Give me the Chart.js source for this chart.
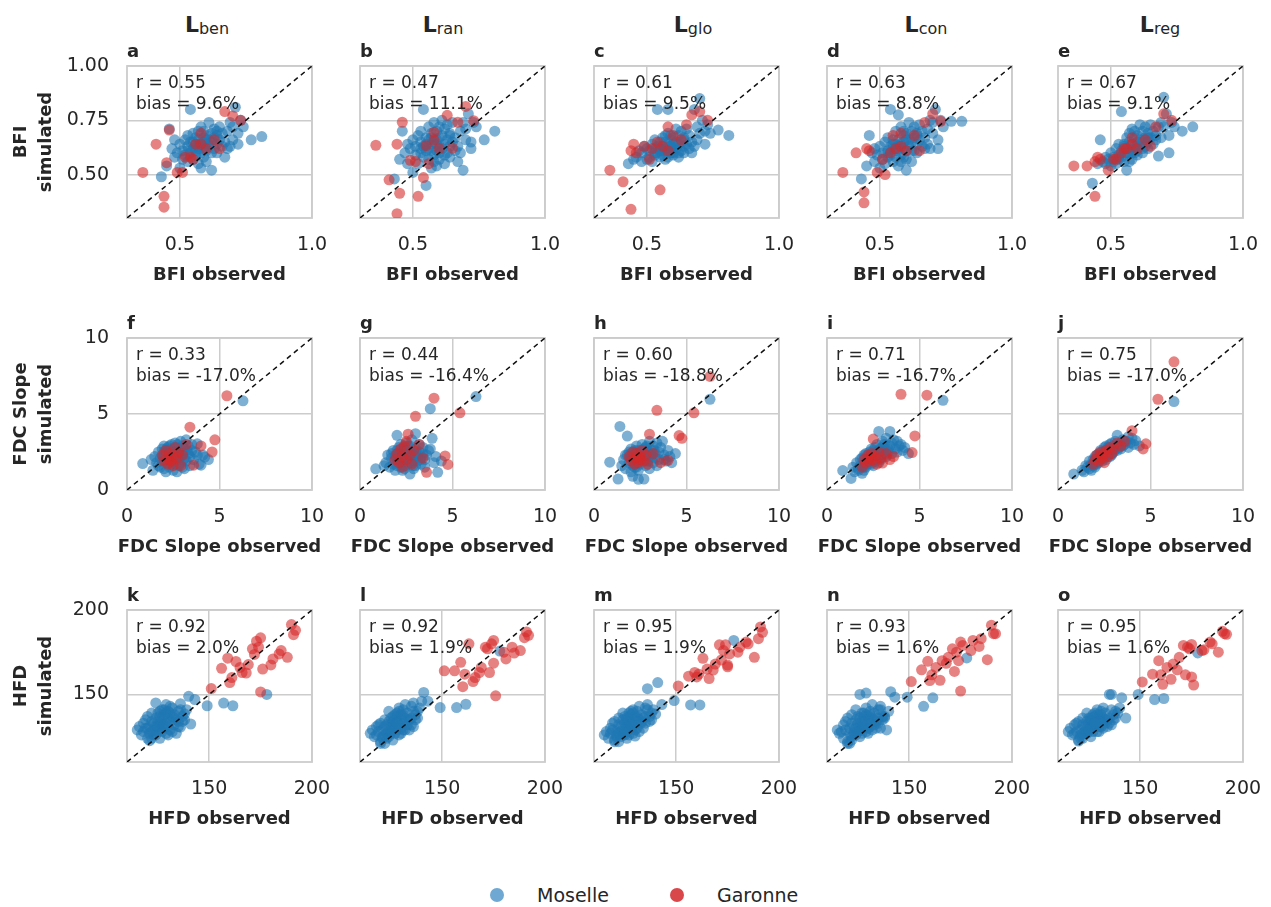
<!DOCTYPE html>
<html>
<head>
<meta charset="utf-8">
<script src="https://cdn.jsdelivr.net/npm/chart.js@4.4.1/dist/chart.umd.min.js"></script>
<style>
  body { margin: 0; background: #fff; width: 1271px; height: 907px; position: relative; overflow: hidden;
         font-family: "DejaVu Sans", sans-serif; color: #262626; }
  canvas { position: absolute; }
  .hdr { position: absolute; top: 14px; font-size: 22px; line-height: 22px; font-weight: bold; transform: translateX(-50%); white-space: nowrap; }
  .hdr span { font-size: 16px; font-weight: normal; position: relative; top: 2px; }
  .dot { position: absolute; width: 14px; height: 14px; border-radius: 50%; }
  .lbl { position: absolute; font-size: 19px; line-height: 19px; }
</style>
</head>
<body>
<script>
// ---- data ----
const models = ['ben', 'ran', 'glo', 'con', 'reg'];
const headerX = [207, 443, 693, 926, 1160];
const letters = [['a','b','c','d','e'], ['f','g','h','i','j'], ['k','l','m','n','o']];
const rValues = [[0.55, 0.47, 0.61, 0.63, 0.67], [0.33, 0.44, 0.60, 0.71, 0.75], [0.92, 0.92, 0.95, 0.93, 0.95]];
const biasValues = [[9.6, 11.1, 9.5, 8.8, 9.1], [-17.0, -16.4, -18.8, -16.7, -17.0], [2.0, 1.9, 1.9, 1.6, 1.6]];

// BFI
const bfiObsMoselle = [0.43,0.45,0.46,0.47,0.48,0.48,0.49,0.50,0.50,0.51, 0.51,0.52,0.52,0.53,0.53,0.53,0.54,0.54,0.54,0.55,
  0.55,0.55,0.56,0.56,0.56,0.56,0.57,0.57,0.57,0.57, 0.58,0.58,0.58,0.58,0.59,0.59,0.59,0.59,0.60,0.60,
  0.60,0.60,0.61,0.61,0.61,0.62,0.62,0.62,0.63,0.63, 0.63,0.64,0.64,0.64,0.65,0.65,0.66,0.66,0.67,0.67,
  0.68,0.68,0.69,0.69,0.70,0.70,0.71,0.72,0.72,0.73, 0.74,0.77,0.81,0.55,0.60,0.62,0.57,0.53,0.59,0.64];
const bfiBenMoselle = [0.49,0.54,0.71,0.62,0.58,0.66,0.60,0.53,0.64,0.57, 0.61,0.66,0.59,0.63,0.56,0.68,0.80,0.60,0.65,0.57,
  0.62,0.69,0.59,0.64,0.67,0.61,0.55,0.63,0.70,0.66, 0.60,0.64,0.72,0.53,0.62,0.67,0.58,0.70,0.64,0.61,
  0.68,0.56,0.66,0.63,0.74,0.52,0.65,0.69,0.62,0.67, 0.71,0.64,0.60,0.68,0.66,0.72,0.63,0.69,0.58,0.65,
  0.70,0.62,0.63,0.74,0.66,0.72,0.81,0.69,0.64,0.75, 0.72,0.66,0.675,0.65,0.66,0.60,0.62,0.61,0.65,0.70];
const bfiRanMoselle = [0.48,0.57,0.70,0.60,0.55,0.64,0.62,0.51,0.66,0.59, 0.63,0.68,0.55,0.65,0.60,0.70,0.80,0.58,0.63,0.45,
  0.61,0.67,0.57,0.66,0.72,0.62,0.53,0.64,0.69,0.67, 0.59,0.65,0.74,0.56,0.61,0.70,0.54,0.66,0.63,0.60,
  0.72,0.57,0.68,0.62,0.75,0.55,0.64,0.71,0.60,0.66, 0.73,0.63,0.58,0.69,0.65,0.74,0.61,0.67,0.56,0.63,
  0.70,0.60,0.52,0.74,0.66,0.71,0.78,0.62,0.65,0.74, 0.72,0.66,0.70,0.64,0.67,0.59,0.61,0.62,0.64,0.68];
const bfiGloMoselle = [0.55,0.57,0.58,0.61,0.56,0.60,0.63,0.57,0.62,0.58, 0.61,0.64,0.56,0.62,0.59,0.66,0.80,0.60,0.63,0.58,
  0.61,0.65,0.59,0.63,0.67,0.61,0.57,0.62,0.68,0.65, 0.80,0.63,0.69,0.58,0.61,0.66,0.60,0.68,0.62,0.60,
  0.67,0.59,0.65,0.62,0.71,0.58,0.64,0.68,0.61,0.65, 0.70,0.63,0.60,0.67,0.64,0.71,0.62,0.68,0.60,0.65,
  0.80,0.63,0.66,0.72,0.85,0.69,0.75,0.64,0.70,0.73, 0.69,0.705,0.68,0.62,0.64,0.60,0.61,0.60,0.63,0.66];
const bfiConMoselle = [0.48,0.54,0.68,0.60,0.56,0.62,0.59,0.53,0.63,0.57, 0.60,0.65,0.55,0.61,0.58,0.67,0.80,0.59,0.63,0.56,
  0.62,0.66,0.58,0.64,0.70,0.61,0.54,0.63,0.775,0.66, 0.59,0.64,0.72,0.56,0.62,0.68,0.58,0.70,0.52,0.61,
  0.69,0.57,0.66,0.63,0.74,0.56,0.65,0.70,0.61,0.67, 0.72,0.64,0.60,0.69,0.66,0.73,0.63,0.70,0.62,0.67,
  0.71,0.64,0.62,0.75,0.69,0.74,0.80,0.66,0.62,0.75, 0.72,0.745,0.745,0.64,0.66,0.61,0.62,0.60,0.65,0.68];
const bfiRegMoselle = [0.46,0.55,0.66,0.56,0.55,0.58,0.57,0.54,0.60,0.56, 0.58,0.62,0.55,0.59,0.57,0.64,0.79,0.58,0.61,0.56,
  0.60,0.64,0.52,0.62,0.67,0.60,0.56,0.62,0.69,0.65, 0.60,0.64,0.71,0.57,0.62,0.67,0.60,0.70,0.63,0.61,
  0.68,0.59,0.66,0.63,0.73,0.60,0.65,0.70,0.63,0.67, 0.72,0.65,0.62,0.69,0.67,0.73,0.64,0.70,0.66,0.68,
  0.72,0.585,0.67,0.74,0.856,0.72,0.78,0.68,0.60,0.74, 0.72,0.70,0.72,0.63,0.65,0.62,0.60,0.58,0.63,0.67];
const bfiObsGaronne = [0.36,0.41,0.44,0.44,0.45,0.46,0.49,0.51,0.52,0.54,0.55,0.56,0.58,0.58,0.60,0.63,0.65,0.67,0.70,0.73];
const bfiBenGaronne = [0.51,0.64,0.40,0.35,0.555,0.705,0.51,0.51,0.58,0.58,0.57,0.64,0.69,0.64,0.62,0.66,0.62,0.79,0.77,0.75];
const bfiRanGaronne = [0.635,0.476,0.32,0.64,0.414,0.741,0.566,0.56,0.40,0.486,0.633,0.55,0.695,0.66,0.62,0.773,0.622,0.741,0.814,0.748];
const bfiGloGaronne = [0.52,0.467,0.34,0.61,0.64,0.60,0.63,0.57,0.62,0.65,0.43,0.63,0.72,0.61,0.68,0.66,0.73,0.775,0.79,0.75];
const bfiConGaronne = [0.51,0.60,0.37,0.42,0.62,0.61,0.51,0.57,0.50,0.60,0.68,0.62,0.69,0.63,0.61,0.68,0.61,0.74,0.78,0.745];
const bfiRegGaronne = [0.54,0.54,0.40,0.56,0.58,0.57,0.52,0.57,0.57,0.60,0.62,0.62,0.67,0.64,0.62,0.66,0.63,0.72,0.78,0.75];

// FDC slope
const fdcObsMoselle = [0.85,1.3,1.4,1.5,1.6,1.7,1.8,1.8,1.9,1.9, 2.0,2.0,2.0,2.1,2.1,2.1,2.2,2.2,2.2,2.3,
  2.3,2.3,2.4,2.4,2.4,2.5,2.5,2.5,2.6,2.6, 2.6,2.7,2.7,2.7,2.8,2.8,2.8,2.9,2.9,3.0,
  3.0,3.0,3.1,3.1,3.2,3.2,3.3,3.3,3.4,3.4, 3.5,3.5,3.6,3.7,3.8,3.9,4.0,4.1,4.2,4.4,
  2.0,2.3,2.5,2.7,2.9,3.1,1.7,2.2,2.6,2.4, 6.27,1.95,2.15,2.35,2.55,2.75,2.85,3.05,3.25,3.8];
const fdcBenMoselle = [1.74,2.0,1.3,2.2,1.8,2.5,1.5,2.1,2.7,1.9, 2.3,1.4,2.9,2.0,1.2,2.5,1.8,2.8,2.2,1.5,
  2.6,2.0,3.0,1.7,2.3,1.3,2.7,2.1,1.9,2.4, 3.1,1.2,2.2,2.8,1.6,2.5,2.0,3.2,1.8,2.4,
  2.9,1.5,2.1,2.7,3.3,1.9,2.4,2.9,2.2,1.6, 2.6,3.0,2.0,2.5,3.04,1.7,1.63,2.3,2.17,2.0,
  2.5,2.9,1.9,2.5,2.2,1.4,1.6,2.4,1.7,2.6, 5.87,2.2,2.7,1.9,2.4,3.0,2.2,2.0,2.6,2.3];
const fdcRanMoselle = [1.39,1.6,1.8,2.3,1.5,2.1,2.6,1.7,2.2,1.3, 3.6,2.0,1.6,2.4,1.9,2.8,1.5,2.2,3.0,1.8,
  2.5,2.1,1.4,2.7,2.3,1.9,3.1,2.0,2.4,1.7, 2.9,1.05,2.2,2.6,1.8,2.5,3.3,2.0,2.3,3.7,
  1.6,2.7,2.2,1.9,2.5,3.0,2.1,1.7,2.4,2.8, 2.0,1.5,2.3,2.6,5.35,3.4,1.8,2.2,1.16,1.9,
  2.6,1.3,2.2,2.9,1.4,2.4,2.4,2.0,2.1,1.6, 6.15,2.3,1.9,2.8,2.1,2.4,1.6,2.3,2.0,2.7];
const fdcGloMoselle = [1.83,0.72,4.18,1.6,2.0,1.4,3.55,2.3,1.8,2.5, 1.2,2.1,2.7,1.6,2.3,0.9,2.0,2.6,1.5,2.2,
  1.8,2.9,0.7,2.4,2.0,1.7,2.6,2.2,3.0,1.9, 2.3,0.72,2.5,2.0,1.6,2.8,2.2,1.9,2.5,3.2,
  2.1,1.4,2.6,2.3,1.8,2.9,2.4,2.1,1.6,3.1, 2.5,2.0,2.8,3.2,2.3,1.9,2.6,2.2,1.8,2.4,
  2.4,1.5,2.0,2.7,1.9,2.2,2.3,1.7,2.5,1.3, 5.97,2.1,1.8,2.6,2.3,2.0,2.9,2.3,2.6,2.0];
const fdcConMoselle = [1.28,0.76,1.5,1.2,1.8,1.4,2.0,1.6,1.1,2.1, 1.7,2.3,1.3,1.9,2.4,1.5,2.0,2.2,1.7,2.5,
  1.9,2.1,2.7,1.8,2.3,2.0,2.6,1.6,2.2,2.8, 1.9,2.4,3.0,2.1,2.6,1.8,3.85,2.3,2.0,2.8,
  3.2,2.4,2.6,3.0,2.2,3.4,2.7,2.5,3.85,2.9, 3.1,2.4,3.3,2.7,2.5,2.9,3.0,2.6,2.8,2.4,
  1.5,1.9,2.2,2.5,2.1,2.7,1.3,2.0,2.4,1.7, 5.9,1.6,1.8,2.2,2.0,2.3,2.7,2.5,2.3,3.2];
const fdcRegMoselle = [1.05,1.3,1.2,1.6,1.5,1.9,1.7,1.3,2.0,1.6, 2.2,1.5,1.9,2.3,1.7,2.0,2.4,1.8,2.1,2.6,
  2.0,2.2,2.5,1.9,2.3,2.8,2.1,2.4,2.6,2.0, 2.9,2.3,2.5,2.8,2.2,3.0,2.6,2.4,3.1,2.7,
  2.5,2.9,2.8,3.2,3.6,2.6,3.0,2.8,3.1,2.7, 3.3,2.9,3.0,3.2,2.8,3.1,3.4,3.0,3.25,2.9,
  1.7,2.1,2.4,2.6,2.3,2.7,1.4,2.1,2.5,2.2, 5.82,1.8,2.0,2.2,2.4,2.5,2.7,2.6,2.8,3.5];
const fdcObsGaronne = [1.9,2.0,2.1,2.2,2.3,2.3,2.4,2.5,2.5,2.6,2.7,2.8,2.9,3.0,3.2,3.4,3.6,4.0,4.6,4.75,5.4,6.27];
const fdcBenGaronne = [2.3,1.9,2.6,1.7,2.0,2.4,1.9,2.2,1.6,2.8,2.1,2.5,1.6,2.3,3.0,4.13,1.63,2.9,2.5,3.3,6.2,null];
const fdcRanGaronne = [2.0,2.4,1.8,2.7,2.2,1.5,2.9,2.0,3.2,3.67,2.3,1.7,2.6,4.85,3.0,2.1,1.16,6.04,2.24,1.68,5.08,null];
const fdcGloGaronne = [2.2,1.9,2.5,1.7,2.1,2.4,1.8,2.2,2.0,2.6,1.9,2.3,1.7,3.67,2.4,5.24,1.8,1.95,3.58,3.4,5.08,7.47];
const fdcConGaronne = [1.5,2.0,1.8,2.3,1.9,2.1,2.4,3.35,2.0,2.2,1.7,2.5,2.1,1.77,2.4,2.0,2.2,6.3,2.46,3.56,6.24,null];
const fdcRegGaronne = [1.7,2.0,2.3,1.9,2.2,2.5,2.1,2.4,1.8,2.6,2.2,2.8,2.4,2.7,3.1,2.9,3.2,3.9,2.7,3.04,5.97,8.43];

// HFD
const hfdObsMoselle = [115,116,117,118,118,119,119,120,120,121, 121,122,122,122,123,123,123,124,124,124,
  125,125,125,126,126,126,127,127,127,128, 128,128,129,129,129,130,130,130,131,131,
  131,132,132,133,133,134,134,135,135,136, 136,137,137,138,139,140,141,143,149,157,
  161.5,178,124,126,128,130,132,120,122,127, 129,131,133,135,125,136,138,126,128,121];
const hfdBenMoselle = [129,131,126,133,128,135,130,124,137,131, 127,134,124,139,129,133,126,136,131,145,
  128,134,139,130,124,137,132,141,128,135, 130,138,133,127,144,136,131,126,139,134,
  129,137,142,132,138,127,135,140,131,130.6, 144.5,137,134,138.5,141,148.9,132.5,147,143.3,144.9,
  143.3,150,126,133,141,140,128,130,128,136, 139,143,136,134,131,141,135,140,132,122.6];
const hfdRanMoselle = [127,129,125,131,126,132,128,122,133,129, 125,131,121,135,127,132,124,134,129,140,
  127,132,136,129,123,134,131,138,127,134, 129,137,132,126,142,135,130,127,138,133,
  129,136,144,132,139,129,135,143,132,131, 145,138,135,140,142,146,151.2,146,142.2,142.2,
  144.2,175.7,125,131,139,138,129,121,126,135, 140,141,135,136,128,140,136,137,133,124];
const hfdGloMoselle = [126,128,124,130,127,133,129,123,134,128, 126,132,122,136,128,131,125,135,130,139,
  126,133,137,128,124,135,130,139,126,133, 130,138,131,127,141,136,129,125.4,137,134,
  130,135,143,133,138,130,136,142,133,153.4, 144,137,134,139,141,138.4,157,144,146.4,143.8,
  143.8,182,126,132,140,137,128,122,127,134, 139,140,134,137,129,141,135,136,132,125];
const hfdConMoselle = [129,127,128,132,124,134,129,121,136,127, 130,133,123,138,126,131,127,135,130,141,
  128,133,137,129,125,150,131,139,127,134, 130,137,150.8,128,142,135,130,127,138,133,
  131,136,144,132,139,130,134,141,133,130, 143,137,135,136,129,140,151.6,148.4,148.4,143,
  148,171.6,126,131,139,137,129,122,125,134, 138,140,135,136,128,141,137,136,132,121];
const hfdRegMoselle = [128,130,126,132,127,133,128,122.4,134,129, 126,132,124,136,128,131,127,134,130,139,
  128,133,136,130,125,135,131,138,128,134, 131,137,132,128,141,135,131,128,138,134,
  131,136,142,133,139,131,135,150,133,132, 150,138,135,140,139,142,148,136,150,147,
  147.6,174.6,127,132,139,137,130,123,127,134, 138,140,135,136,129,141,136,136,133,124];
const hfdObsGaronne = [151,156,159,160,161,163,165,166,168,169,171,172,173,174,175,175,176,180,181,184,185,188,190,191,192];
const hfdBenGaronne = [153.5,165.5,171.5,157,160,169.5,166,163,162.7,167.7,177,173.7,181.5,178,183.5,151.5,165,167.5,171,174,176,172,191.4,185.4,188];
const hfdRanGaronne = [164,164,169,154.6,162,180,157.6,160,163,166,178,177,163,180,168.5,182,149.2,175,171,178,174.5,176,183.6,187,185];
const hfdGloGaronne = [155,160.8,163,160.4,162,171.4,165,159.4,164.4,168,179.4,170.4,176,179.4,166.4,167.4,174,175,178,181,180,172,183,190,186.8];
const hfdConGaronne = [157.6,164.6,169.6,158.2,161.6,166,158.4,170,168.4,172,177,163.6,175,170,181,152,179,176,182,178.4,183,170.6,191,186,186];
const hfdRegGaronne = [157.4,162,170,161.6,156,166,159,168,164.6,172,179,161.6,178,177,179.6,160.4,155.6,176,176.4,181,180,175,187.4,186,185.6];

// axes per row
const rowNames = ['BFI', 'FDC Slope', 'HFD'];
const rowRanges = [[0.3, 1.0], [0, 10], [110, 200]];
const rowXTicks = [[0.5, 1.0], [0, 5, 10], [150, 200]];
const rowYTicks = [[0.5, 0.75, 1.0], [0, 5, 10], [150, 200]];
const rowXDecimals = [1, 0, 0];
const rowYDecimals = [2, 0, 0];

const rows = [
  { obsM: bfiObsMoselle, obsG: bfiObsGaronne,
    simM: [bfiBenMoselle, bfiRanMoselle, bfiGloMoselle, bfiConMoselle, bfiRegMoselle],
    simG: [bfiBenGaronne, bfiRanGaronne, bfiGloGaronne, bfiConGaronne, bfiRegGaronne] },
  { obsM: fdcObsMoselle, obsG: fdcObsGaronne,
    simM: [fdcBenMoselle, fdcRanMoselle, fdcGloMoselle, fdcConMoselle, fdcRegMoselle],
    simG: [fdcBenGaronne, fdcRanGaronne, fdcGloGaronne, fdcConGaronne, fdcRegGaronne] },
  { obsM: hfdObsMoselle, obsG: hfdObsGaronne,
    simM: [hfdBenMoselle, hfdRanMoselle, hfdGloMoselle, hfdConMoselle, hfdRegMoselle],
    simG: [hfdBenGaronne, hfdRanGaronne, hfdGloGaronne, hfdConGaronne, hfdRegGaronne] }
];

// ---- layout ----
const FONT = '"DejaVu Sans", sans-serif';
const INK = '#262626';
const GRID = '#cccccc';
const plotLeft = [127, 360, 594, 827, 1058];
const plotTop = [66, 338, 610];
const PW = 185, PH = 152, PADTOP = 30, PADRIGHT = 25, XH = 70;

// frame, in-panel stats, panel letter and x title (drawn so it can overflow the plot width)
const panelDecor = {
  id: 'panelDecor',
  beforeDatasetsDraw(chart, args, o) {
    const { ctx, chartArea: a } = chart;
    ctx.save();
    ctx.strokeStyle = GRID;
    ctx.lineWidth = 1.8;
    ctx.strokeRect(a.left, a.top, a.right - a.left, a.bottom - a.top);
    ctx.restore();
  },
  afterDatasetsDraw(chart, args, o) {
    const { ctx, chartArea: a } = chart;
    ctx.save();
    ctx.fillStyle = INK;
    ctx.font = '17px ' + FONT;
    ctx.fillText(o.r, a.left + 9, a.top + 22);
    ctx.fillText(o.bias, a.left + 9, a.top + 43);
    ctx.font = 'bold 18px ' + FONT;
    ctx.fillText(o.letter, a.left, a.top - 9);
    ctx.textAlign = 'center';
    ctx.fillText(o.xTitle, (a.left + a.right) / 2, a.bottom + 62);
    ctx.restore();
  }
};

const toPts = (xs, ys) => xs.map((x, i) => ({ x: x, y: ys[i] }));

function makePanel(ri, ci) {
  const row = rows[ri];
  const [lo, hi] = rowRanges[ri];
  const first = ci === 0;
  const yw = first ? 127 : 20;
  const cv = document.createElement('canvas');
  cv.width = yw + PW + PADRIGHT;
  cv.height = PADTOP + PH + XH;
  cv.style.left = (plotLeft[ci] - yw) + 'px';
  cv.style.top = (plotTop[ri] - PADTOP) + 'px';
  document.body.appendChild(cv);

  const bias = biasValues[ri][ci];
  new Chart(cv, {
    type: 'scatter',
    data: {
      datasets: [
        { type: 'line', data: [{ x: lo, y: lo }, { x: hi, y: hi }], borderColor: '#111',
          borderWidth: 1.5, borderDash: [5, 4], pointRadius: 0, fill: false },
        { label: 'Garonne', data: toPts(row.obsG, row.simG[ci]), backgroundColor: 'rgba(214,39,40,0.58)',
          borderWidth: 0, pointRadius: 5.5 },
        { label: 'Moselle', data: toPts(row.obsM, row.simM[ci]), backgroundColor: 'rgba(31,119,180,0.58)',
          borderWidth: 0, pointRadius: 5.5 }
      ]
    },
    options: {
      responsive: false,
      animation: false,
      devicePixelRatio: 1,
      layout: { padding: { top: PADTOP, right: PADRIGHT, left: 0, bottom: 0 } },
      plugins: {
        legend: { display: false },
        tooltip: { enabled: false },
        panelDecor: {
          r: 'r = ' + rValues[ri][ci].toFixed(2),
          bias: 'bias = ' + bias.toFixed(1) + '%',
          letter: letters[ri][ci],
          xTitle: rowNames[ri] + ' observed'
        }
      },
      scales: {
        x: {
          type: 'linear', min: lo, max: hi,
          afterBuildTicks: s => { s.ticks = rowXTicks[ri].map(v => ({ value: v })); },
          afterFit: s => { s.height = XH; s.paddingLeft = 0; s.paddingRight = 0; },
          grid: { color: GRID, lineWidth: 1.5, drawTicks: false },
          border: { display: false },
          ticks: { padding: 16, color: INK, font: { size: 19, family: FONT }, maxRotation: 0, autoSkip: false,
                   callback: v => Number(v).toFixed(rowXDecimals[ri]) }
        },
        y: {
          type: 'linear', min: lo, max: hi,
          afterBuildTicks: s => { s.ticks = rowYTicks[ri].map(v => ({ value: v })); },
          afterFit: s => { s.width = yw; s.paddingTop = 0; s.paddingBottom = 0; },
          grid: { color: GRID, lineWidth: 1.5, drawTicks: false },
          border: { display: false },
          ticks: { display: first, padding: 18, color: INK, font: { size: 19, family: FONT }, autoSkip: false,
                   callback: v => Number(v).toFixed(rowYDecimals[ri]) },
          title: { display: first, text: [rowNames[ri], 'simulated'], color: INK, padding: { top: 9.5 },
                   font: { size: 18, weight: 'bold', family: FONT, lineHeight: 1.35 } }
        }
      }
    },
    plugins: [panelDecor]
  });
}

// column headers
models.forEach((m, ci) => {
  const d = document.createElement('div');
  d.className = 'hdr';
  d.style.left = headerX[ci] + 'px';
  d.innerHTML = 'L<span>' + m + '</span>';
  document.body.appendChild(d);
});

for (let ri = 0; ri < 3; ri++) {
  for (let ci = 0; ci < 5; ci++) makePanel(ri, ci);
}

// shared legend
const legendItems = [['Moselle', '#6fa8d3', 490, 537], ['Garonne', '#d9474b', 670, 717]];
legendItems.forEach(([name, color, dx, tx]) => {
  const dot = document.createElement('div');
  dot.className = 'dot';
  dot.style.left = dx + 'px';
  dot.style.top = '888px';
  dot.style.background = color;
  document.body.appendChild(dot);
  const t = document.createElement('div');
  t.className = 'lbl';
  t.style.left = tx + 'px';
  t.style.top = '886px';
  t.textContent = name;
  document.body.appendChild(t);
});
</script>
</body>
</html>
